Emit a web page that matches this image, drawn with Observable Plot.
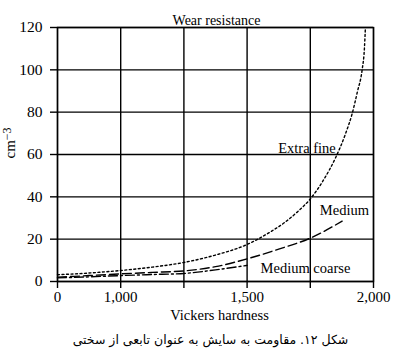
<!DOCTYPE html>
<html>
<head>
<meta charset="utf-8">
<script src="https://cdn.jsdelivr.net/npm/d3@7"></script>
<script src="https://cdn.jsdelivr.net/npm/@observablehq/plot@0.6"></script>
<style>
  html, body { margin: 0; padding: 0; background: #fff; }
  svg text { font-family: 'Liberation Serif', 'Times New Roman', serif; }
  svg text.fa { font-family: 'DejaVu Sans', sans-serif; }
</style>
</head>
<body>
<div id="chart"></div>
<script>
// ---- data ----
const titleText = "Wear resistance";
const xLabel = "Vickers hardness";
const yLabel = "cm-3";
const caption = "شکل ۱۲. مقاومت به سایش به عنوان تابعی از سختی";

// broken x axis: first tick drawn at 750 but labelled "0"
const xGridTicks = [750, 1000, 1250, 1500, 1750, 2000];
const xTickLabels = {750: "0", 1000: "1,000", 1500: "1,500", 2000: "2,000"};
const yTicks = [0, 20, 40, 60, 80, 100, 120];

const extraFineH = [750, 875, 1000, 1125, 1250, 1375, 1500, 1550, 1600, 1650, 1700, 1750, 1800, 1850, 1890, 1916, 1936, 1955, 1964, 1968];
const extraFineV = [3.2, 4.0, 5.2, 6.8, 9.0, 12.5, 17.5, 20.5, 24, 28, 33, 39, 47.5, 58.5, 70, 79.5, 89.5, 100, 110, 120];

const mediumH = [750, 875, 1000, 1125, 1250, 1375, 1500, 1625, 1750, 1876];
const mediumV = [2.0, 2.8, 3.6, 4.3, 5.0, 7.0, 10.7, 15.3, 20.5, 28.5];

const mediumCoarseH = [750, 875, 1000, 1125, 1250, 1375, 1500];
const mediumCoarseV = [1.7, 2.2, 2.8, 3.3, 3.8, 5.5, 7.6];

const seriesNames = ["Extra fine", "Medium", "Medium coarse"];
const labelH = [1737, 1885, 1731];
const labelV = [62.8, 33.5, 6.1];

// ---- build tables ----
const toRows = (hs, vs) => hs.map((h, i) => ({h, v: vs[i]}));
const extraFine = toRows(extraFineH, extraFineV);
const medium = toRows(mediumH, mediumV);
const mediumCoarse = toRows(mediumCoarseH, mediumCoarseV);
const labels = seriesNames.map((name, i) => ({name, h: labelH[i], v: labelV[i]}));

const plot = Plot.plot({
  width: 400,
  height: 356,
  marginLeft: 57,
  marginRight: 27,
  marginTop: 27,
  marginBottom: 75,
  style: "font-family: 'Liberation Serif', 'Times New Roman', serif; font-size: 14px; background: #fff; color: #000;",
  x: {domain: [750, 2000]},
  y: {domain: [0, 120]},
  marks: [
    Plot.gridX(xGridTicks, {stroke: "#000", strokeOpacity: 1, strokeWidth: 1.4}),
    Plot.gridY(yTicks, {stroke: "#000", strokeOpacity: 1, strokeWidth: 1.4}),
    Plot.frame({stroke: "#000", strokeWidth: 1.4}),
    Plot.axisX(xGridTicks, {
      tickSize: 7, tickPadding: 3, strokeWidth: 1.4,
      tickFormat: d => xTickLabels[d] ?? "",
      label: null, fontSize: 15
    }),
    Plot.axisY(yTicks, {tickSize: 7, tickPadding: 8, strokeWidth: 1.4, label: null, fontSize: 15.5}),
    Plot.line(extraFine, {x: "h", y: "v", curve: "monotone-x", stroke: "#000", strokeWidth: 1.4, strokeDasharray: "2,2.5"}),
    Plot.line(medium, {x: "h", y: "v", curve: "monotone-x", stroke: "#000", strokeWidth: 1.4, strokeDasharray: "9,4"}),
    Plot.line(mediumCoarse, {x: "h", y: "v", curve: "monotone-x", stroke: "#000", strokeWidth: 1.4, strokeDasharray: "9,3,2,3"}),
    Plot.text(labels, {x: "h", y: "v", text: "name", fontSize: 14.5, fill: "#000"}),
    Plot.text([titleText], {frameAnchor: "top", dx: 1, dy: -12, fontSize: 14, fill: "#000"}),
    Plot.text([xLabel], {frameAnchor: "bottom", dx: 4, dy: 38, fontSize: 14.5, fill: "#000"}),
    Plot.text([yLabel], {frameAnchor: "left", dx: -47, dy: 4, rotate: -90, fontSize: 15, fill: "#000"}),
    Plot.text([caption], {frameAnchor: "bottom", dx: -5, dy: 62, fontSize: 12.5, fill: "#000"})
  ]
});

// superscript on the y label; Persian font on the caption
d3.select(plot).selectAll("text").each(function() {
  if (this.textContent === yLabel) {
    const t = d3.select(this);
    t.text(null);
    t.append("tspan").text("cm");
    t.append("tspan").attr("dy", "-0.35em").attr("font-size", "12px").text("−3");
  } else if (this.textContent === caption) {
    d3.select(this).attr("class", "fa");
  }
});

document.getElementById("chart").appendChild(plot);
</script>
</body>
</html>
